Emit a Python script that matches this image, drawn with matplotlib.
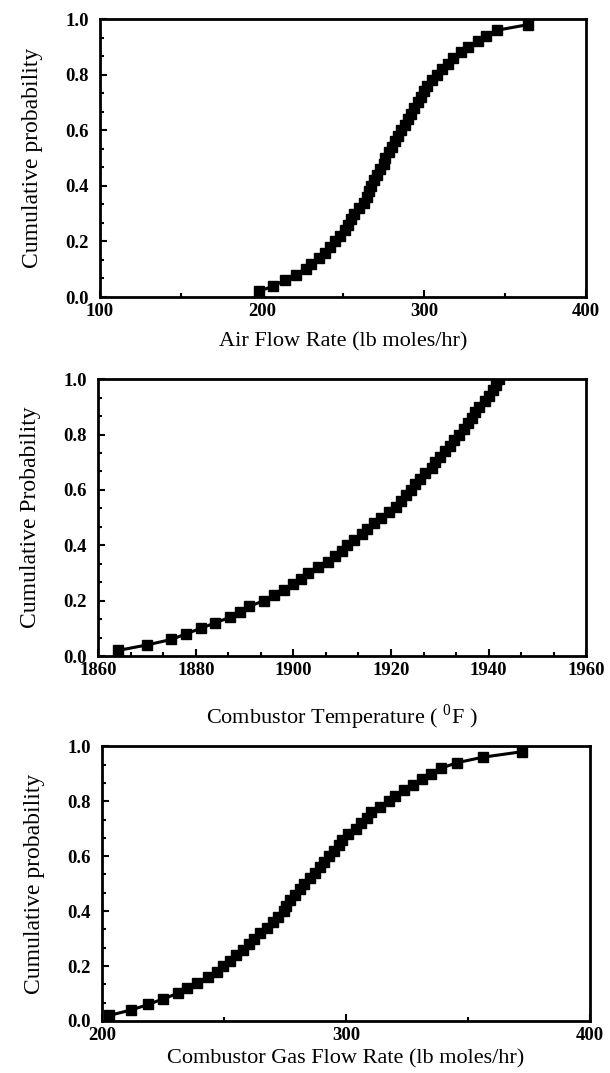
import numpy as np
import matplotlib
matplotlib.use("Agg")
import matplotlib.pyplot as plt
from matplotlib.ticker import MultipleLocator

plt.rcParams['font.family'] = ['Liberation Serif', 'DejaVu Serif']

# cumulative probability levels
prob_49 = [round(0.02 * k, 2) for k in range(1, 50)]
prob_50 = [round(0.02 * k, 2) for k in range(1, 51)]

air_flow = [198, 207, 214, 221, 227, 230, 235, 239, 242, 245,
            248, 251, 253, 255, 257, 260, 263, 265, 266, 267,
            269, 271, 273, 275, 276, 278, 280, 282, 284, 286,
            288, 290, 292, 294, 296, 298, 300, 302, 305, 308,
            311, 315, 318, 323, 327, 333, 338, 345, 364]

comb_temp = [1864, 1870, 1875, 1878, 1881, 1884, 1887, 1889, 1891, 1894,
             1896, 1898, 1900, 1901.5, 1903, 1905, 1907, 1908.5, 1910, 1911,
             1912.5, 1914, 1915, 1916.5, 1918, 1919.5, 1921, 1922, 1923, 1924,
             1925, 1926, 1927, 1928.5, 1929, 1930, 1931, 1932, 1933, 1934,
             1935, 1935.8, 1936.5, 1937.3, 1938, 1939.2, 1940, 1941, 1941.6, 1942.2]

gas_flow = [203, 212, 219, 225, 231, 235, 239, 243.5, 247, 249.5,
            252.5, 255, 258, 260.5, 262.5, 265, 267.5, 270, 272, 274.5,
            275.5, 277, 279, 281, 283, 285.5, 287.5, 289.5, 291, 293,
            295.3, 297, 298.5, 301, 304, 306, 308.5, 310.5, 314, 317.6,
            320, 324, 327.5, 331, 335, 339, 345.5, 356, 372]

fig = plt.figure(figsize=(6.1, 10.73), dpi=100)

panels = [
    dict(rect=[0.164, 0.7232, 0.797, 0.259], x=air_flow, p=prob_49,
         xlim=(100, 400), major=100, minor=50,
         ylabel="Cumulative probability", xlabel="Air Flow Rate (lb moles/hr)", pad=9),
    dict(rect=[0.161, 0.3886, 0.800, 0.258], x=comb_temp, p=prob_50,
         xlim=(1860, 1960), major=20, minor=20 / 3,
         ylabel="Cumulative Probability", xlabel="Combustor Temperature ( $^{\\mathregular{0}}$F )", pad=17),
    dict(rect=[0.167, 0.0485, 0.800, 0.256], x=gas_flow, p=prob_49,
         xlim=(200, 400), major=100, minor=50,
         ylabel="Cumulative probability", xlabel="Combustor Gas Flow Rate (lb moles/hr)", pad=4),
]

for pn in panels:
    ax = fig.add_axes(pn['rect'])
    ax.plot(pn['x'], pn['p'], color='black', lw=2.2, marker='s', ms=7.5, clip_on=True)
    ax.set_xlim(*pn['xlim'])
    ax.set_ylim(0, 1.0)
    ax.xaxis.set_major_locator(MultipleLocator(pn['major']))
    ax.xaxis.set_minor_locator(MultipleLocator(pn['minor']))
    ax.yaxis.set_major_locator(MultipleLocator(0.2))
    ax.yaxis.set_minor_locator(MultipleLocator(0.2 / 3))
    ax.set_yticklabels([f"{v:.1f}" for v in ax.get_yticks()])
    ax.tick_params(which='both', direction='in', width=1.5)
    ax.tick_params(which='major', length=5, labelsize=13.5)
    ax.tick_params(axis='y', which='major', pad=8)
    ax.tick_params(axis='x', which='major', pad=4)
    ax.tick_params(which='minor', length=3)
    for lab in ax.get_xticklabels() + ax.get_yticklabels():
        lab.set_fontweight('bold')
    for s in ax.spines.values():
        s.set_linewidth(2)
    ax.set_ylabel(pn['ylabel'], fontsize=17, labelpad=16)
    ax.set_xlabel(pn['xlabel'], fontsize=16, labelpad=pn['pad'])

fig.savefig("out.png", dpi=100)
